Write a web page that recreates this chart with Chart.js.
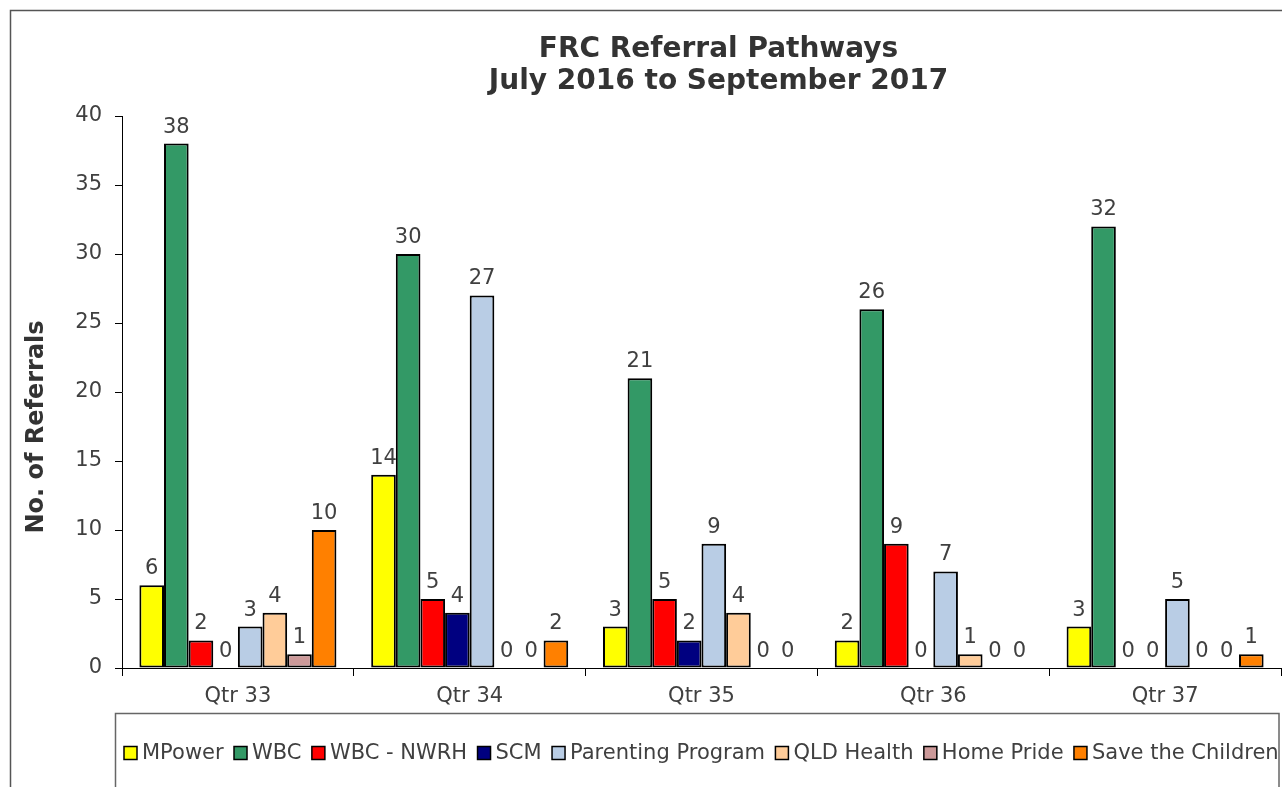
<!DOCTYPE html>
<html>
<head>
<meta charset="utf-8">
<title>FRC Referral Pathways</title>
<script src="https://cdn.jsdelivr.net/npm/chart.js@4.4.0/dist/chart.umd.min.js"></script>
<style>
    html, body { margin: 0; padding: 0; background: #fff; overflow: hidden; }
    #wrap { position: absolute; left: 0; top: 0; width: 1300px; height: 800px; }
</style>
</head>
<body>
<div id="wrap"><canvas id="chart" width="1300" height="800"></canvas></div>
<script>
// Data
const quarters = ["Qtr 33", "Qtr 34", "Qtr 35", "Qtr 36", "Qtr 37"];
const seriesNames = ["MPower", "WBC", "WBC - NWRH", "SCM", "Parenting Program", "QLD Health", "Home Pride", "Save the Children"];
const mpower = [6, 14, 3, 2, 3];
const wbc = [38, 30, 21, 26, 32];
const wbcNwrh = [2, 5, 5, 9, 0];
const scm = [0, 4, 2, 0, 0];
const parenting = [3, 27, 9, 7, 5];
const qldHealth = [4, 0, 4, 1, 0];
const homePride = [1, 0, 0, 0, 0];
const saveChildren = [10, 2, 0, 0, 1];
const seriesColors = ["#FFFF00", "#339966", "#FF0000", "#000080", "#B9CDE5", "#FFCC99", "#CC9999", "#FF8000"];
const yMin = 0, yMax = 40, yStep = 5;
const titleLines = ["FRC Referral Pathways", "July 2016 to September 2017"];
const yTitle = "No. of Referrals";

const FONT = '"DejaVu Sans", Verdana, sans-serif';
const TEXT = "#404040";

const allSeries = [mpower, wbc, wbcNwrh, scm, parenting, qldHealth, homePride, saveChildren];

// frame, title, axis title and legend drawn around the chart
const decorPlugin = {
    id: "decor",
    beforeDraw(chart) {
        const ctx = chart.ctx;
        ctx.save();
        ctx.fillStyle = "#fff";
        ctx.fillRect(0, 0, chart.width, chart.height);
        ctx.strokeStyle = "#555";
        ctx.lineWidth = 1.5;
        ctx.strokeRect(10.5, 10.5, 1400, 900); // outer border, runs off the page
        ctx.strokeStyle = "#666";
        ctx.strokeRect(115.5, 713.5, 1279 - 115.5, 200); // legend box
        ctx.restore();
    },
    afterDraw(chart) {
        const ctx = chart.ctx;
        ctx.save();
        // title
        ctx.fillStyle = "#333";
        ctx.font = "bold 28px " + FONT;
        ctx.textAlign = "center";
        ctx.textBaseline = "alphabetic";
        ctx.fillText(titleLines[0], 718.5, 57);
        ctx.fillText(titleLines[1], 718.5, 89);

        // y axis title
        ctx.save();
        ctx.translate(43, 427);
        ctx.rotate(-Math.PI / 2);
        ctx.font = "bold 24px " + FONT;
        ctx.fillText(yTitle, 0, 0);
        ctx.restore();

        // legend
        ctx.font = "21px " + FONT;
        ctx.textAlign = "left";
        ctx.textBaseline = "middle";
        let x = 124;
        const y = 753;
        chart.data.datasets.forEach((ds) => {
            ctx.fillStyle = ds.backgroundColor;
            ctx.fillRect(x, y - 6.5, 13, 13);
            ctx.strokeStyle = "#000";
            ctx.lineWidth = 1.5;
            ctx.strokeRect(x, y - 6.5, 13, 13);
            ctx.fillStyle = TEXT;
            ctx.fillText(ds.label, x + 18, y + 1);
            x += 18 + ctx.measureText(ds.label).width + 10.4;
        });
        ctx.restore();
    },
};

// value labels above each bar
const valueLabels = {
    id: "valueLabels",
    afterDatasetsDraw(chart) {
        const ctx = chart.ctx;
        ctx.save();
        ctx.font = "21px " + FONT;
        ctx.fillStyle = TEXT;
        ctx.textAlign = "center";
        ctx.textBaseline = "alphabetic";
        chart.data.datasets.forEach((ds, i) => {
            const meta = chart.getDatasetMeta(i);
            meta.data.forEach((bar, j) => {
                ctx.fillText(String(ds.data[j]), bar.x, bar.y - 11);
            });
        });
        ctx.restore();
    },
};

const datasets = seriesNames.map((name, i) => ({
    label: name,
    data: allSeries[i],
    backgroundColor: seriesColors[i],
    borderColor: "#000",
    borderWidth: (c) => (c.raw === 0 ? 0 : 2),
    borderSkipped: false,
    categoryPercentage: 0.85,
    barPercentage: 1,
}));

new Chart(document.getElementById("chart"), {
    type: "bar",
    data: { labels: quarters, datasets: datasets },
    options: {
        responsive: false,
        animation: false,
        devicePixelRatio: 1,
        layout: { padding: { left: 0, right: 19, top: 116, bottom: 87 } },
        plugins: {
            legend: { display: false },
            title: { display: false },
            tooltip: { enabled: false },
        },
        scales: {
            x: {
                grid: { offset: true, drawOnChartArea: false, tickLength: 8, color: "#000", lineWidth: 1 },
                border: { color: "#000", width: 1 },
                ticks: { font: { family: FONT, size: 21 }, color: TEXT, padding: 8 },
                afterFit: (s) => { s.height = 45; },
            },
            y: {
                min: yMin,
                max: yMax,
                grid: { drawOnChartArea: false, tickLength: 7, color: "#000", lineWidth: 1 },
                border: { color: "#000", width: 1 },
                ticks: { stepSize: yStep, font: { family: FONT, size: 21 }, color: TEXT, padding: 13 },
                afterFit: (s) => { s.width = 122; },
            },
        },
    },
    plugins: [decorPlugin, valueLabels],
});
</script>
</body>
</html>
